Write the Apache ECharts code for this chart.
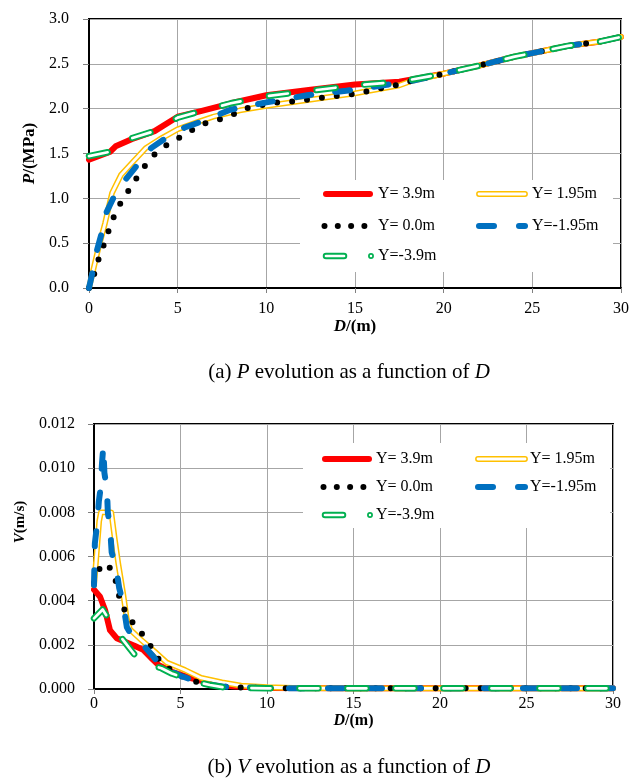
<!DOCTYPE html>
<html><head><meta charset="utf-8">
<script src="https://cdn.jsdelivr.net/npm/echarts@6/dist/echarts.min.js"></script>
<style>html,body{margin:0;padding:0;background:#fff;}#c{width:632px;height:783px;}</style>
</head><body><div id="c"></div>
<script>
// ---------------- DATA ----------------
const seriesNames = ['Y= 3.9m', 'Y= 1.95m', 'Y= 0.0m', 'Y=-1.95m', 'Y=-3.9m'];
const xTickLabels = ['0', '5', '10', '15', '20', '25', '30'];
const pTickLabels = ['0.0', '0.5', '1.0', '1.5', '2.0', '2.5', '3.0'];
const vTickLabels = ['0.000', '0.002', '0.004', '0.006', '0.008', '0.010', '0.012'];

// (a) P (MPa) vs D (m)
const pD_y39 = [0, 1.2, 1.5, 2.4, 3.7, 5, 6.25, 8, 10, 12.5, 15, 17.5, 20, 22, 24, 25, 27, 28.85, 30];
const pP_y39 = [1.43, 1.52, 1.58, 1.66, 1.75, 1.91, 1.97, 2.06, 2.15, 2.21, 2.27, 2.30, 2.39, 2.48, 2.58, 2.62, 2.70, 2.75, 2.80];
const pD_y195 = [0, 0.5, 0.9, 1.3, 1.8, 2.4, 3.2, 4, 5, 6.25, 7, 8.5, 10, 12.5, 15, 17.5, 18.2, 20, 22, 24, 25, 27, 28.85, 30];
const pP_y195 = [0, 0.42, 0.72, 1.06, 1.26, 1.39, 1.56, 1.66, 1.77, 1.86, 1.91, 1.98, 2.03, 2.10, 2.17, 2.26, 2.31, 2.39, 2.48, 2.58, 2.62, 2.70, 2.75, 2.80];
const pD_y0 = [0, 0.3, 0.54, 0.83, 1.11, 1.39, 1.76, 2.21, 2.66, 3.15, 3.7, 4.35, 5.12, 5.81, 6.58, 7.37, 8.18, 8.97, 9.79, 10.6, 11.46, 12.3, 13.1, 13.9, 14.8, 15.6, 16.5, 17.3, 18.2, 20, 22, 24, 25, 27, 28.85, 30];
const pP_y0 = [0, 0.16, 0.32, 0.48, 0.64, 0.79, 0.94, 1.08, 1.22, 1.36, 1.49, 1.59, 1.68, 1.76, 1.84, 1.88, 1.94, 2.01, 2.04, 2.07, 2.08, 2.10, 2.12, 2.14, 2.16, 2.19, 2.23, 2.26, 2.31, 2.39, 2.48, 2.58, 2.62, 2.70, 2.75, 2.80];
const pD_ym195 = [0, 0.25, 0.45, 0.7, 1.0, 1.46, 2.1, 2.8, 3.5, 4.4, 5.4, 6.4, 8, 10, 12.3, 14.5, 16.6, 18.2, 20, 22, 24, 25, 27, 28.85, 30];
const pP_ym195 = [0, 0.22, 0.42, 0.60, 0.85, 1.04, 1.22, 1.39, 1.56, 1.68, 1.79, 1.86, 1.99, 2.07, 2.15, 2.20, 2.26, 2.31, 2.39, 2.48, 2.58, 2.62, 2.70, 2.75, 2.80];
const pD_ym39 = [0, 1.2, 1.5, 2.4, 3.7, 5, 6.25, 8, 10, 12.5, 15, 17.5, 20, 22, 24, 25, 27, 28.85, 30];
const pP_ym39 = [1.47, 1.52, 1.58, 1.67, 1.75, 1.90, 1.97, 2.06, 2.14, 2.20, 2.26, 2.30, 2.39, 2.48, 2.58, 2.62, 2.70, 2.75, 2.80];

// (b) V (m/s) vs D (m)
const vD_y39 = [0, 0.35, 0.64, 0.92, 1.31, 1.79, 2.37, 2.85, 3.33, 3.72, 4.5, 5.65, 6.8, 8, 10, 15, 20, 25, 30];
const vV_y39 = [0.0045, 0.00418, 0.00358, 0.00267, 0.0023, 0.00214, 0.00195, 0.00177, 0.00139, 0.00109, 0.00078, 0.00048, 0.00026, 0.00012, 0.00004, 0.00003, 0.00003, 0.00003, 0.00003];
const vD_y195 = [0, 0.1, 0.3, 0.4, 1.0, 1.2, 1.4, 1.69, 1.89, 2.08, 2.76, 3.5, 4.2, 5.26, 6.2, 7.4, 8.5, 10, 12, 15, 20, 25, 30];
const vV_y195 = [0.0047, 0.0056, 0.0076, 0.0080, 0.0080, 0.0068, 0.0057, 0.0043, 0.0032, 0.0027, 0.0022, 0.0017, 0.0012, 0.00086, 0.0005, 0.0003, 0.00015, 0.00008, 0.00004, 0.00003, 0.00003, 0.00003, 0.00003];
const vD_y0 = [0, 0.35, 0.73, 1.17, 1.35, 1.56, 1.98, 2.5, 3.08, 3.5, 4.0, 5.0, 6.0, 7.0, 8.0, 10, 15, 20, 25, 30];
const vV_y0 = [0.0048, 0.0055, 0.0057, 0.0052, 0.00453, 0.00388, 0.00327, 0.00275, 0.00222, 0.0016, 0.0011, 0.0006, 0.0003, 0.00015, 0.00008, 0.00004, 0.00003, 0.00003, 0.00003, 0.00003];
const vD_ym195 = [0, 0.05, 0.2, 0.28, 0.4, 0.46, 0.54, 0.6, 0.75, 0.8, 0.94, 1.02, 1.3, 1.45, 1.7, 1.9, 2.2, 2.6, 3.4, 3.9, 5, 6.2, 7.5, 10, 15, 20, 25, 30];
const vV_ym195 = [0.0047, 0.0066, 0.0076, 0.0085, 0.0092, 0.0102, 0.0110, 0.0098, 0.0090, 0.0080, 0.0072, 0.0062, 0.0054, 0.0046, 0.0038, 0.0028, 0.0024, 0.0022, 0.0015, 0.0010, 0.0006, 0.00026, 0.0001, 0.00004, 0.00003, 0.00003, 0.00003, 0.00003];
const vD_ym39 = [0, 0.5, 0.9, 1.3, 1.8, 2.2, 2.6, 3.2, 3.9, 4.5, 5.3, 6, 6.7, 7.6, 10, 15, 20, 25, 30];
const vV_ym39 = [0.0032, 0.0036, 0.0031, 0.0026, 0.0021, 0.0017, 0.0013, 0.0011, 0.00094, 0.0007, 0.00048, 0.0003, 0.00018, 0.00006, 0.00003, 0.00003, 0.00003, 0.00003, 0.00003];

// ---------------- STYLE ----------------
const FONT = 'Liberation Serif';
const RED = '#FF0000', YEL = '#FFC000', BLK = '#000000', BLUE = '#0070C0', GRN = '#00B050';
const GRIDC = '#A6A6A6';

function zipXY(xs, ys) { return xs.map((x, i) => [x, ys[i]]); }
function ls(name, xs, ys, g, style) {
  return {
    type: 'line', name: name, xAxisIndex: g, yAxisIndex: g,
    data: zipXY(xs, ys), symbol: 'none', smooth: false, clip: false,
    silent: true, animation: false, emphasis: { disabled: true },
    lineStyle: Object.assign({ cap: 'round', join: 'round' }, style)
  };
}
function chartSeries(g, d) {
  return [
    ls(seriesNames[0], d[0][0], d[0][1], g, { color: RED, width: 6 }),
    ls(seriesNames[1], d[1][0], d[1][1], g, { color: YEL, width: 5.8 }),
    ls(seriesNames[1] + ' ', d[1][0], d[1][1], g, { color: '#FFFFFF', width: 2.8 }),
    ls(seriesNames[2], d[2][0], d[2][1], g, { color: BLK, width: 6, type: [0, 15] }),
    ls(seriesNames[3], d[3][0], d[3][1], g, { color: BLUE, width: 6, type: [15, 24] }),
    ls(seriesNames[4], d[4][0], d[4][1], g, { color: GRN, width: 6.5, type: [19, 29] }),
    ls(seriesNames[4] + ' ', d[4][0], d[4][1], g, { color: '#FFFFFF', width: 2.7, type: [19, 29] })
  ];
}

function nameStyle(size, extra) {
  return Object.assign({
    rich: {
      b: { fontFamily: FONT, fontSize: size, fontWeight: 'bold', fontStyle: 'italic', color: '#000' },
      n: { fontFamily: FONT, fontSize: size, fontWeight: 'bold', color: '#000' }
    }
  }, extra || {});
}
function xAx(g, margin, nameGap, nsize) {
  return {
    gridIndex: g, type: 'value', min: 0, max: 30, interval: 5,
    axisLine: { show: true, onZero: false, lineStyle: { color: '#000', width: 2 } },
    axisTick: { show: true, length: 5, lineStyle: { color: '#808080' } },
    axisLabel: { margin: margin, fontFamily: FONT, fontSize: 16, color: '#000', formatter: (v, i) => xTickLabels[i] },
    splitLine: { show: true, lineStyle: { color: GRIDC, width: 1 } },
    name: '{b|D}{n|/(m)}', nameLocation: 'middle', nameGap: nameGap,
    nameTextStyle: nameStyle(nsize)
  };
}
function yAx(g, max, interval, labels, margin, name, nameGap, nsize, pad) {
  return {
    gridIndex: g, type: 'value', min: 0, max: max, interval: interval,
    axisLine: { show: true, onZero: false, lineStyle: { color: '#000', width: 2 } },
    axisTick: { show: true, length: 6, lineStyle: { color: '#808080' } },
    axisLabel: { margin: margin, fontFamily: FONT, fontSize: 16, color: '#000', formatter: (v, i) => labels[i] },
    splitLine: { show: true, lineStyle: { color: GRIDC, width: 1 } },
    name: name, nameLocation: 'middle', nameGap: nameGap, nameRotate: 90,
    nameTextStyle: nameStyle(nsize, pad ? { padding: pad } : {})
  };
}

function legendGraphics(cfg) {
  const els = [];
  const seg = (x1, x2, y, stroke, w, z) => ({ type: 'line', silent: true, z: z, shape: { x1: x1, y1: y, x2: x2, y2: y }, style: { stroke: stroke, lineWidth: w, lineCap: 'round' } });
  const txt = (x, y, t) => ({ type: 'text', silent: true, z: 105, x: x, y: y, style: { text: t, fontFamily: FONT, fontSize: 16, fill: '#000', align: 'left', verticalAlign: 'middle' } });
  els.push({ type: 'rect', silent: true, z: 100, shape: { x: cfg.box[0], y: cfg.box[1], width: cfg.box[2], height: cfg.box[3] }, style: { fill: '#fff' } });
  const r1 = cfg.rows[0], r2 = cfg.rows[1], r3 = cfg.rows[2];
  const L1 = cfg.c1[0], R1 = cfg.c1[1], L2 = cfg.c2[0], R2 = cfg.c2[1];
  els.push(seg(L1 + 3, R1 - 3, r1, RED, 6, 101));
  els.push(seg(L2 + 3, R2 - 3, r1, YEL, 5.8, 101));
  els.push(seg(L2 + 3, R2 - 3, r1, '#fff', 2.8, 102));
  for (let k = 0; k < 4; k++) {
    els.push({ type: 'circle', silent: true, z: 101, shape: { cx: L1 + 1.5 + k * 13.3, cy: r2, r: 3 }, style: { fill: BLK } });
  }
  els.push(seg(L2 + 3, L2 + 21 - 3, r2, BLUE, 6, 101));
  els.push(seg(L2 + 40 + 3, R2 - 3, r2, BLUE, 6, 101));
  els.push(seg(L1 + 3, L1 + 21, r3, GRN, 6.5, 101));
  els.push(seg(L1 + 3, L1 + 21, r3, '#fff', 2.7, 102));
  els.push({ type: 'circle', silent: true, z: 101, shape: { cx: L1 + 48, cy: r3, r: 2.1 }, style: { fill: '#fff', stroke: GRN, lineWidth: 1.7 } });
  els.push(txt(cfg.t1, r1, seriesNames[0]));
  els.push(txt(cfg.t2, r1, seriesNames[1]));
  els.push(txt(cfg.t1, r2, seriesNames[2]));
  els.push(txt(cfg.t2, r2, seriesNames[3]));
  els.push(txt(cfg.t1, r3, seriesNames[4]));
  return els;
}

const chart = echarts.init(document.getElementById('c'), null, { renderer: 'canvas' });
const titleRich = { i: { fontFamily: FONT, fontSize: 21, fontStyle: 'italic', color: '#000', lineHeight: 22 } };
chart.setOption({
  backgroundColor: '#fff',
  animation: false,
  title: [
    { text: '(a) {i|P} evolution as a function of {i|D}', left: 349, top: 361, textAlign: 'center', padding: 0,
      textStyle: { fontFamily: FONT, fontSize: 21, fontWeight: 'normal', color: '#000', lineHeight: 22, rich: titleRich } },
    { text: '(b) {i|V} evolution as a function of {i|D}', left: 349, top: 756, textAlign: 'center', padding: 0,
      textStyle: { fontFamily: FONT, fontSize: 21, fontWeight: 'normal', color: '#000', lineHeight: 22, rich: titleRich } }
  ],
  grid: [
    { left: 89, top: 19, width: 533, height: 269, show: true, borderColor: '#000', borderWidth: 2, backgroundColor: 'transparent' },
    { left: 94, top: 424, width: 519, height: 265, show: true, borderColor: '#000', borderWidth: 2, backgroundColor: 'transparent' }
  ],
  xAxis: [xAx(0, 13, 29, 17), xAx(1, 7, 21, 16)],
  yAxis: [
    yAx(0, 3, 0.5, pTickLabels, 20, '{b|P}{n|/(MPa)}', 41, 17, null),
    yAx(1, 0.012, 0.002, vTickLabels, 19, '{b|V}{n|(m/s)}', 64, 15, [0, 0, 0, 69])
  ],
  series: [].concat(
    chartSeries(0, [[pD_y39, pP_y39], [pD_y195, pP_y195], [pD_y0, pP_y0], [pD_ym195, pP_ym195], [pD_ym39, pP_ym39]]),
    chartSeries(1, [[vD_y39, vV_y39], [vD_y195, vV_y195], [vD_y0, vV_y0], [vD_ym195, vV_ym195], [vD_ym39, vV_ym39]])
  ),
  graphic: [].concat(
    legendGraphics({ box: [300, 180, 313, 92], rows: [194, 226, 256], c1: [323, 373], c2: [476, 528], t1: 378, t2: 532 }),
    legendGraphics({ box: [303, 443, 307, 85], rows: [459, 487, 515], c1: [322, 372], c2: [475, 528], t1: 376, t2: 530 })
  )
});
</script>
</body></html>
